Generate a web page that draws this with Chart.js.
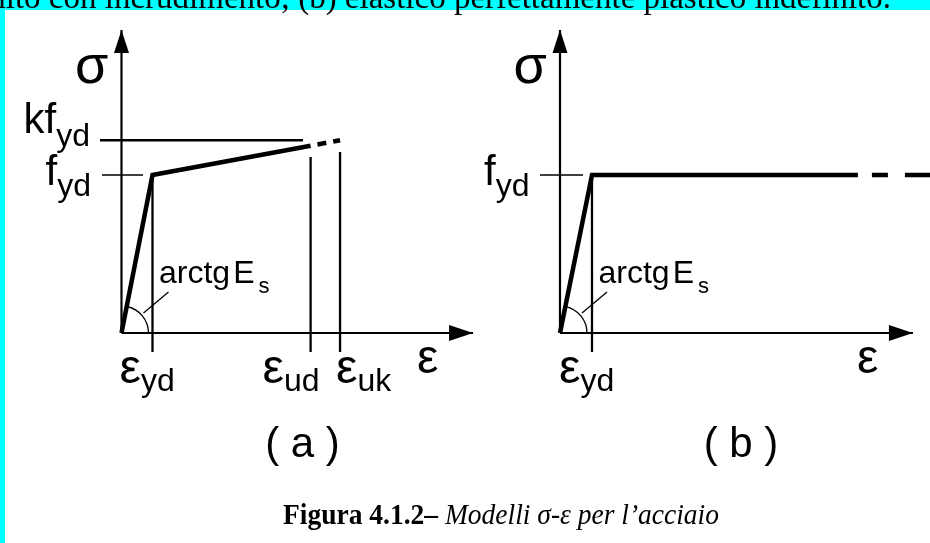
<!DOCTYPE html>
<html>
<head>
<meta charset="utf-8">
<script src="https://cdn.jsdelivr.net/npm/chart.js@4/dist/chart.umd.min.js"></script>
<style>
  html, body { margin: 0; padding: 0; background: #00ffff; }
  #wrap { position: relative; width: 930px; height: 543px; }
  canvas { display: block; }
</style>
</head>
<body>
<div id="wrap"><canvas id="fig" width="930" height="543"></canvas></div>
<script>
// Strain in units of eps_yd, stress in units of f_yd
const epsYd = 1;
const epsUd = 6.1;
const epsUk = 7.05;
const fYd = 1;
const kFactor = 1.22;          // k * f_yd reached at eps_uk
const sigmaUd = 1.185;         // stress at eps_ud on the hardening branch
const plateauEnd = 9.31;       // end of the drawn solid plateau, model (b)
const plateauDashEnd = 11.5625;

// Model (a): bilinear with hardening, limited at eps_ud
const curveA = [[0, 0], [epsYd, fYd], [epsUd, sigmaUd]];
const curveAext = [[epsUd, sigmaUd], [epsUk, kFactor * fYd]];
// Model (b): elastic - perfectly plastic, unlimited
const curveB = [[0, 0], [epsYd, fYd], [plateauEnd, fYd]];
const curveBext = [[plateauEnd, fYd], [plateauDashEnd, fYd]];

// Axis arrow tips (eps, sigma)
const axisTipA = [11.34, 1.918];
const axisTipB = [11.03, 1.918];

// Reference-value labels
const topLine = "nito con incrudimento; (b) elastico perfettamente plastico indefinito.";
const captionBold = "Figura 4.1.2\u2013";
const captionItalic = " Modelli \u03c3-\u03b5 per l\u2019acciaio";
const panelNames = ["( a )", "( b )"];

const SANS = '"Liberation Sans", Arial, sans-serif';
const SERIF = '"Liberation Serif", "Times New Roman", serif';

function pts(list) { return list.map(([x, y]) => ({ x, y })); }
function seg(list, axis, width, extra) {
  return Object.assign({
    data: pts(list), xAxisID: axis, yAxisID: 'y', showLine: true,
    borderColor: '#000', borderWidth: width, pointRadius: 0,
    borderJoinStyle: 'miter', borderCapStyle: 'butt', fill: false, tension: 0
  }, extra || {});
}

const datasets = [
  // axes (a)
  seg([[0, 0], [axisTipA[0], 0]], 'xa', 2.2),
  seg([[0, 0], [0, axisTipA[1]]], 'xa', 2.2),
  // guides (a)
  seg([[-0.694, kFactor], [5.855, kFactor]], 'xa', 2.4),
  seg([[-0.629, fYd], [0.694, fYd]], 'xa', 1.5),
  seg([[epsYd, fYd], [epsYd, -0.12]], 'xa', 2.3),
  seg([[epsUd, 1.114], [epsUd, -0.12]], 'xa', 2.3),
  seg([[epsUk, 1.146], [epsUk, -0.12]], 'xa', 2.3),
  // constitutive law (a)
  seg(curveA, 'xa', 4.5),
  seg(curveAext, 'xa', 4.5, { borderDash: [9, 7], borderDashOffset: 9 }),
  // axes (b)
  seg([[0, 0], [axisTipB[0], 0]], 'xb', 2.2),
  seg([[0, 0], [0, axisTipB[1]]], 'xb', 2.2),
  // guides (b)
  seg([[-0.625, fYd], [0.719, fYd]], 'xb', 1.5),
  seg([[epsYd, fYd], [epsYd, -0.12]], 'xb', 2.3),
  // constitutive law (b)
  seg(curveB, 'xb', 4.5),
  seg(curveBext, 'xb', 4.5, { borderDash: [16, 17, 30, 14], borderDashOffset: 63 })
];

function drawParts(ctx, parts, x, y, align) {
  let w = 0;
  for (const p of parts) { ctx.font = p[1]; w += ctx.measureText(p[0]).width + (p[3] || 0); }
  let cx = align === 'right' ? x - w : (align === 'center' ? x - w / 2 : x);
  ctx.textAlign = 'left';
  for (const p of parts) {
    ctx.font = p[1];
    cx += (p[3] || 0);
    ctx.fillText(p[0], cx, y + (p[2] || 0));
    cx += ctx.measureText(p[0]).width;
  }
}

function arrowUp(ctx, x, y) {
  ctx.beginPath(); ctx.moveTo(x, y); ctx.lineTo(x - 7.5, y + 23); ctx.lineTo(x + 7.5, y + 23); ctx.closePath(); ctx.fill();
}
function arrowRight(ctx, x, y) {
  ctx.beginPath(); ctx.moveTo(x, y); ctx.lineTo(x - 24, y - 8); ctx.lineTo(x - 24, y + 8); ctx.closePath(); ctx.fill();
}

const fig = {
  id: 'fig',
  beforeDraw(chart) {
    const ctx = chart.ctx;
    ctx.save();
    ctx.fillStyle = '#00ffff';
    ctx.fillRect(0, 0, chart.width, chart.height);
    ctx.fillStyle = '#ffffff';
    ctx.fillRect(5, 10, chart.width - 5, chart.height - 10);
    // running text above the figure
    ctx.fillStyle = '#000';
    ctx.font = '33px ' + SERIF;
    ctx.textAlign = 'right';
    ctx.textBaseline = 'alphabetic';
    ctx.fillText(topLine, 891, 7.5);
    ctx.restore();
  },
  afterDatasetsDraw(chart) {
    const ctx = chart.ctx;
    const y = chart.scales.y;
    ctx.save();
    ctx.fillStyle = '#000';
    ctx.strokeStyle = '#000';
    ctx.textBaseline = 'alphabetic';

    const panels = [
      { s: chart.scales.xa, tip: axisTipA, name: panelNames[0], hard: true },
      { s: chart.scales.xb, tip: axisTipB, name: panelNames[1], hard: false }
    ];
    const big = '42px ' + SANS, sub = '32px ' + SANS, eps = '48px ' + SANS;

    for (const p of panels) {
      const ox = p.s.getPixelForValue(0), oy = y.getPixelForValue(0);
      const tipX = p.s.getPixelForValue(p.tip[0]), tipY = y.getPixelForValue(p.tip[1]);
      const xYd = p.s.getPixelForValue(epsYd), yYd = y.getPixelForValue(fYd);

      arrowUp(ctx, ox, tipY);
      arrowRight(ctx, tipX, oy);

      // elastic modulus angle
      const ang = Math.atan2(oy - yYd, xYd - ox);
      ctx.lineWidth = 1.3;
      ctx.beginPath(); ctx.arc(ox, oy, 27, -ang, 0, false); ctx.stroke();
      ctx.beginPath(); ctx.moveTo(ox + 22, oy - 20); ctx.lineTo(ox + 47, oy - 41); ctx.stroke();

      // axis titles
      drawParts(ctx, [['\u03c3', '54px ' + SANS]], ox - 46.5, tipY + 53, 'left');
      drawParts(ctx, [['\u03b5', eps]], tipX - 56, oy + 40, 'left');

      // stress values
      if (p.hard) {
        const yK = y.getPixelForValue(kFactor);
        drawParts(ctx, [['kf', big], ['yd', sub, 13]], ox - 31.5, yK - 7, 'right');
      }
      drawParts(ctx, [['f', big], ['yd', sub, 11]], ox - 30.5, yYd + 10, 'right');

      // strain values
      drawParts(ctx, [['\u03b5', eps], ['yd', sub, 8]], xYd - 33, oy + 50, 'left');
      if (p.hard) {
        drawParts(ctx, [['\u03b5', eps], ['ud', sub, 8]], p.s.getPixelForValue(epsUd) - 48, oy + 50, 'left');
        drawParts(ctx, [['\u03b5', eps], ['uk', sub, 8]], p.s.getPixelForValue(epsUk) - 4, oy + 50, 'left');
      }

      // slope annotation
      drawParts(ctx, [['arctg', '32px ' + SANS], ['E', '32px ' + SANS, 0, 3], ['s', '22px ' + SANS, 10, 4]], xYd + 6.5, oy - 50, 'left');

      // panel name
      drawParts(ctx, [[p.name, '42px ' + SANS]], ox + 181, oy + 124, 'center');
    }

    // figure caption
    const cb = 'bold 29px ' + SERIF, ci = 'italic 29px ' + SERIF;
    ctx.font = cb; const w1 = ctx.measureText(captionBold).width;
    ctx.font = ci; const w2 = ctx.measureText(captionItalic).width;
    const sx = 436 / (w1 + w2);
    ctx.save();
    ctx.translate(501 - 218, 524);
    ctx.scale(sx, 1);
    ctx.font = cb; ctx.fillText(captionBold, 0, 0);
    ctx.font = ci; ctx.fillText(captionItalic, w1, 0);
    ctx.restore();

    ctx.restore();
  }
};

new Chart(document.getElementById('fig'), {
  type: 'scatter',
  data: { datasets },
  options: {
    responsive: false,
    animation: false,
    events: [],
    layout: { padding: 0 },
    plugins: { legend: { display: false }, tooltip: { enabled: false }, title: { display: false } },
    scales: {
      xa: { type: 'linear', axis: 'x', display: false, min: -3.919, max: 26.08 },
      xb: { type: 'linear', axis: 'x', display: false, min: -17.5, max: 11.5625 },
      y: { type: 'linear', display: false, min: -1.3291, max: 2.1076 }
    }
  },
  plugins: [fig]
});
</script>
</body>
</html>
